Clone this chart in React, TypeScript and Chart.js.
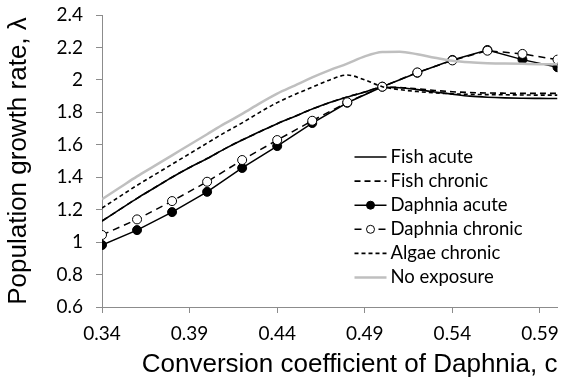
import { useEffect, useRef } from "react";
import { Chart, registerables } from "chart.js";

Chart.register(...registerables);

// Conversion coefficient of Daphnia (c) for the smooth model curves
const conversionFine = [
  0.34, 0.35, 0.36, 0.37, 0.38, 0.39, 0.4, 0.41, 0.42, 0.43, 0.44, 0.45, 0.46, 0.47,
  0.48, 0.49, 0.5, 0.51, 0.52, 0.53, 0.54, 0.55, 0.56, 0.57, 0.58, 0.59, 0.6,
];

// c values where the Daphnia scenarios were evaluated (marked points)
const conversionDaphnia = [
  0.34, 0.36, 0.38, 0.4, 0.42, 0.44, 0.46, 0.48, 0.5, 0.52, 0.54, 0.56, 0.58, 0.6,
];

// Population growth rate, lambda
const fishAcute = [
  1.13, 1.2, 1.27, 1.335, 1.4, 1.46, 1.515, 1.575, 1.63, 1.68, 1.73, 1.775, 1.82, 1.86,
  1.895, 1.925, 1.955, 1.952, 1.94, 1.925, 1.912, 1.9, 1.893, 1.889, 1.887, 1.886, 1.885,
];
const fishChronic = [
  1.13, 1.2, 1.27, 1.335, 1.4, 1.46, 1.515, 1.575, 1.63, 1.68, 1.73, 1.775, 1.82, 1.86,
  1.895, 1.925, 1.955, 1.953, 1.945, 1.935, 1.927, 1.922, 1.919, 1.918, 1.917, 1.917, 1.917,
];
const daphniaAcute = [
  0.982, 1.074, 1.185, 1.31, 1.457, 1.592, 1.734, 1.859, 1.958, 2.044, 2.123, 2.184, 2.125, 2.078,
];
const daphniaChronic = [
  1.044, 1.14, 1.253, 1.372, 1.506, 1.629, 1.748, 1.862, 1.958, 2.046, 2.12, 2.18, 2.16, 2.125,
];
const algaeChronic = [
  1.21, 1.28, 1.35, 1.415, 1.48, 1.545, 1.61, 1.675, 1.735, 1.8, 1.86, 1.91, 1.955, 2.0,
  2.03, 2.0, 1.958, 1.94, 1.928, 1.92, 1.914, 1.911, 1.909, 1.908, 1.907, 1.906, 1.906,
];
const noExposure = [
  1.265, 1.335, 1.405, 1.47, 1.535, 1.6, 1.665, 1.73, 1.79, 1.855, 1.915, 1.965, 2.015, 2.06,
  2.1, 2.145, 2.172, 2.174, 2.158, 2.137, 2.118, 2.108, 2.103, 2.101, 2.099, 2.097, 2.096,
];

const xTickValues = [0.34, 0.39, 0.44, 0.49, 0.54, 0.59];

const seriesLabels = [
  "Fish acute",
  "Fish chronic",
  "Daphnia acute",
  "Daphnia chronic",
  "Algae chronic",
  "No exposure",
];

const toPoints = (xs: number[], ys: number[]) => xs.map((x, i) => ({ x, y: ys[i] }));

const tickFont = { family: "Lato, 'Open Sans', sans-serif", size: 19 };
const legendFont = "18.5px Lato, 'Open Sans', sans-serif";
const titleFont = { family: "'Liberation Sans', Arial, sans-serif", size: 26 };
const axisGray = "#8c8c8c";

// Legend drawn inside the plot area, to the lower right
const insideLegend = {
  id: "insideLegend",
  afterDraw(chart: any) {
    const { ctx, chartArea } = chart;
    const x0 = chartArea.right - 203;
    const x1 = x0 + 32;
    const y0 = chartArea.top + 142;
    const rowStep = 24.1;
    ctx.save();
    chart.data.datasets.forEach((ds: any, i: number) => {
      const y = y0 + i * rowStep;
      ctx.beginPath();
      ctx.setLineDash(ds.borderDash || []);
      ctx.strokeStyle = ds.borderColor;
      ctx.lineWidth = ds.borderWidth;
      ctx.moveTo(x0, y);
      ctx.lineTo(x1, y);
      ctx.stroke();
      ctx.setLineDash([]);
      if (ds.pointRadius > 0) {
        ctx.beginPath();
        ctx.arc((x0 + x1) / 2, y, ds.pointRadius - 0.5, 0, Math.PI * 2);
        ctx.fillStyle = ds.pointBackgroundColor;
        ctx.fill();
        ctx.lineWidth = 1;
        ctx.strokeStyle = ds.pointBorderColor;
        ctx.stroke();
      }
      ctx.fillStyle = "#000";
      ctx.font = legendFont;
      ctx.textAlign = "left";
      ctx.textBaseline = "middle";
      ctx.fillText(ds.label, x1 + 4, y);
    });
    ctx.restore();
  },
};

export default function App() {
  const canvasRef = useRef<HTMLCanvasElement | null>(null);

  useEffect(() => {
    document.body.style.margin = "0";
    const canvas = canvasRef.current;
    if (!canvas) return;

    const line = (
      label: string,
      data: { x: number; y: number }[],
      extra: Record<string, unknown>,
      order: number
    ) => ({
      label,
      data,
      borderColor: "#000",
      backgroundColor: "#000",
      borderWidth: 1.6,
      borderDash: [] as number[],
      pointRadius: 0,
      pointHoverRadius: 0,
      fill: false,
      cubicInterpolationMode: "monotone",
      order,
      ...extra,
    });

    const chart = new Chart(canvas, {
      type: "line",
      data: {
        datasets: [
          line(seriesLabels[0], toPoints(conversionFine, fishAcute), {}, 5),
          line(seriesLabels[1], toPoints(conversionFine, fishChronic), { borderDash: [6, 4] }, 4),
          line(
            seriesLabels[2],
            toPoints(conversionDaphnia, daphniaAcute),
            {
              borderWidth: 1.5,
              tension: 0,
              cubicInterpolationMode: "default",
              pointRadius: 4.5,
              pointBackgroundColor: "#000",
              pointBorderColor: "#000",
              pointBorderWidth: 1,
            },
            3
          ),
          line(
            seriesLabels[3],
            toPoints(conversionDaphnia, daphniaChronic),
            {
              borderWidth: 1.5,
              borderDash: [7, 5],
              tension: 0,
              cubicInterpolationMode: "default",
              pointRadius: 4.5,
              pointBackgroundColor: "#fff",
              pointBorderColor: "#000",
              pointBorderWidth: 1,
            },
            2
          ),
          line(seriesLabels[4], toPoints(conversionFine, algaeChronic), { borderDash: [4, 3] }, 1),
          line(
            seriesLabels[5],
            toPoints(conversionFine, noExposure),
            { borderColor: "#bfbfbf", backgroundColor: "#bfbfbf", borderWidth: 2.5 },
            0
          ),
        ] as any,
      },
      options: {
        animation: false,
        responsive: false,
        maintainAspectRatio: false,
        devicePixelRatio: 1,
        layout: { padding: { top: 15, right: 5, left: 0, bottom: 0 } },
        plugins: {
          legend: { display: false },
          tooltip: { enabled: false },
        },
        scales: {
          x: {
            type: "linear",
            min: 0.34,
            max: 0.6,
            afterBuildTicks: (scale: any) => {
              scale.ticks = xTickValues.map((value) => ({ value }));
            },
            afterFit: (scale: any) => {
              scale.height = 82;
              scale.paddingLeft = 0;
              scale.paddingRight = 0;
            },
            ticks: {
              font: tickFont,
              color: "#000",
              padding: 9,
              maxRotation: 0,
              callback: (v: any) => Number(v).toFixed(2),
            },
            grid: {
              display: true,
              drawOnChartArea: false,
              drawTicks: true,
              tickLength: 6,
              color: axisGray,
            },
            border: { display: true, color: axisGray, width: 1 },
            title: {
              display: true,
              text: "Conversion coefficient of Daphnia, c",
              font: titleFont,
              color: "#000",
              align: "end",
              padding: { top: 0, bottom: 9 },
            },
          },
          y: {
            type: "linear",
            min: 0.6,
            max: 2.4,
            ticks: {
              stepSize: 0.2,
              font: tickFont,
              color: "#000",
              padding: 13,
              callback: (v: any) => String(Number(Number(v).toFixed(1))),
            },
            afterFit: (scale: any) => {
              scale.width = 102;
              scale.paddingTop = 0;
              scale.paddingBottom = 0;
            },
            grid: {
              display: true,
              drawOnChartArea: false,
              drawTicks: true,
              tickLength: 6,
              color: axisGray,
            },
            border: { display: true, color: axisGray, width: 1 },
            title: {
              display: true,
              text: "Population growth rate, λ",
              font: titleFont,
              color: "#000",
              align: "center",
              padding: { top: 3, bottom: 0 },
            },
          },
        },
      } as any,
      plugins: [insideLegend],
    });

    return () => chart.destroy();
  }, []);

  return (
    <div style={{ position: "absolute", left: 0, top: 0, width: 563, height: 389 }}>
      <canvas ref={canvasRef} width={563} height={389} />
    </div>
  );
}
